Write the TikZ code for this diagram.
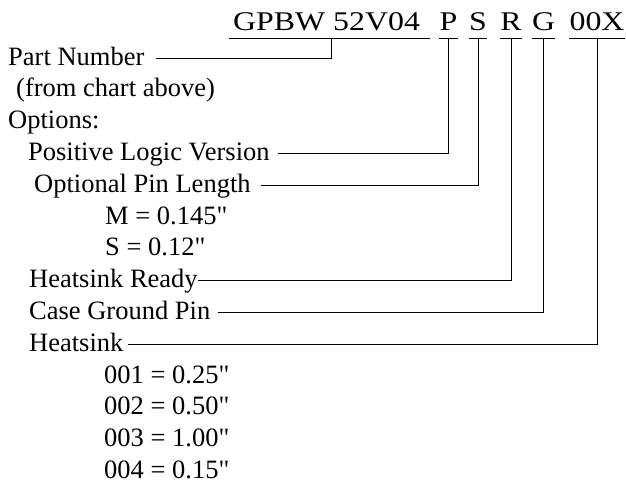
\documentclass[tikz,border=0pt]{standalone}
\usepackage{fontspec}
\setmainfont{Liberation Serif}[Ligatures=TeXOff]
\newfontfamily\partfont[FakeStretch=1.18]{Liberation Serif}
\usetikzlibrary{positioning}

\begin{document}
\begin{tikzpicture}[
    x=1pt, y=-1pt,
    font=\fontsize{26.5}{30}\selectfont,
    seg/.style={font=\fontsize{27}{30}\partfont, inner xsep=0pt, inner ysep=0pt, text depth=8pt, anchor=base},
    lbl/.style={inner sep=0pt, anchor=base west},
    lead/.style={line width=1pt},
    uline/.style={line width=1pt}
]
\useasboundingbox (0,0) rectangle (626,483);

% ordering code
\node[seg, anchor=base west] (pn) at (233,30) {GPBW 52V04};
\node[seg] (optp) at (448.5,30) {P};
\node[seg] (opts) at (478,30) {S};
\node[seg] (optr) at (511,30) {R};
\node[seg] (optg) at (543.5,30) {G};
\node[seg] (opth) at (597,30) {00X};
\draw[uline] ([xshift=-4pt]pn.south west) -- ([xshift=10pt]pn.south east);
\foreach \s in {optp,opts,optr,optg,opth}
  \draw[uline] (\s.south west) -- (\s.south east);

% legend
\node[lbl] (part) at (8,65) {Part Number};
\node[lbl] (chart) at (16,96.8) {(from chart above)};
\node[lbl] (opt) at (8,128.6) {Options:};
\node[lbl] (plv) at (28,160.4) {Positive Logic Version};
\node[lbl] (opl) at (34,192.2) {Optional Pin Length};
\node[lbl] (pinm) at (105,224) {M = 0.145"};
\node[lbl] (pins) at (105,255.8) {S = 0.12"};
\node[lbl] (hsr) at (29,287.6) {Heatsink Ready};
\node[lbl] (cgp) at (29,319.4) {Case Ground Pin};
\node[lbl] (hs) at (29,351.2) {Heatsink};
\node[lbl] (hsa) at (104,383) {001 = 0.25"};
\node[lbl] (hsb) at (104,414.8) {002 = 0.50"};
\node[lbl] (hsc) at (104,446.6) {003 = 1.00"};
\node[lbl] (hsd) at (104,478.4) {004 = 0.15"};

% leaders
\draw[lead] ([xshift=11pt,yshift=7pt]part.base east) -| ([xshift=5pt]pn.south);
\draw[lead] ([xshift=8pt,yshift=7pt]plv.base east) -| (optp.south);
\draw[lead] ([xshift=10pt,yshift=7pt]opl.base east) -| (opts.south);
\draw[lead] ([yshift=7pt]hsr.base east) -| (optr.south);
\draw[lead] ([xshift=8pt,yshift=7pt]cgp.base east) -| (optg.south);
\draw[lead] ([xshift=4pt,yshift=7pt]hs.base east) -| (opth.south);
\end{tikzpicture}
\end{document}
